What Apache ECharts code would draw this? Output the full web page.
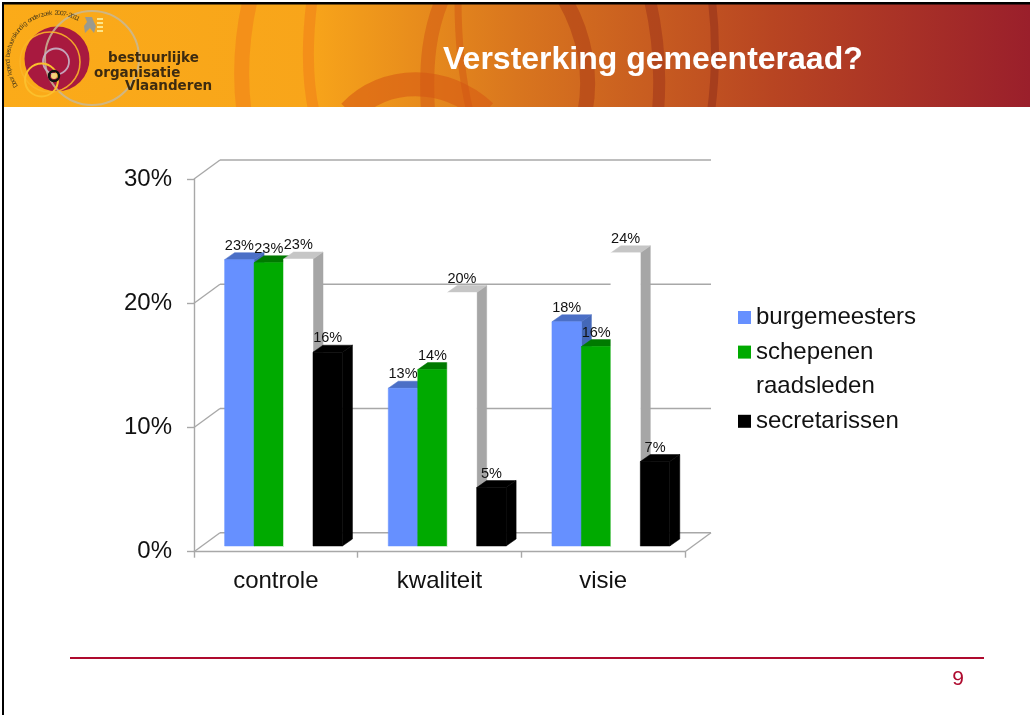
<!DOCTYPE html>
<html>
<head>
<meta charset="utf-8">
<style>
  html, body { margin: 0; padding: 0; background: #fff; }
  #main { width: 1030px; height: 715px; }
</style>
<script src="https://cdn.jsdelivr.net/npm/echarts@6/dist/echarts.min.js"></script>
</head>
<body>
<div id="main"></div>
<script>
// Data (bar heights, labels show them rounded)
const categories = ["controle", "kwaliteit", "visie"];
const burgemeesters = [23.05, 12.7, 18.05];
const schepenen = [22.8, 14.2, 16.05];
const raadsleden = [23.1, 20.4, 23.6];
const secretarissen = [15.6, 4.7, 6.8];
const yTicks = [0, 10, 20, 30];

const FONT = '"Liberation Sans", Arial, sans-serif';
const GREY = "#a8a8a8";
const RED = "#ae0a2e";
const DEPTH_WALL = [26, -19];   // back wall offset
const DEPTH_BAR = [10, -7];     // depth of one bar
const BAR_SHIFT = [7.7, -5.7];  // bars stand a bit inside the floor

// Back wall and side wall lines, drawn from the value axis
const renderWall = (params, api) => {
  const v = api.value(1);
  const p = api.coord([1, v]);
  const size = api.size([1, 0]);
  const x0 = p[0] - size[0] * 1.5;
  const x1 = x0 + size[0] * 3;
  const y = p[1];
  const bx = x0 + DEPTH_WALL[0];
  const by = y + DEPTH_WALL[1];
  const style = { stroke: GREY, lineWidth: 1.4, fill: "none" };
  const children = [
    { type: "line", shape: { x1: x0, y1: y, x2: bx, y2: by }, style },
    { type: "line", shape: { x1: bx, y1: by, x2: x1 + DEPTH_WALL[0], y2: by }, style },
  ];
  if (v === 0) {
    children.push({ type: "line", shape: { x1: x1 + DEPTH_WALL[0], y1: by, x2: x1, y2: y }, style });
  }
  return { type: "group", children };
};

// 3D looking bar: front, top and side faces
const makeBar = (slot, front, top, side) => (params, api) => {
  const v = api.value(1);
  const c = api.coord([api.value(0), v]);
  const base = api.coord([api.value(0), 0]);
  const w = api.size([1, 0])[0] * 0.18;
  const x = c[0] + BAR_SHIFT[0] + (slot - 2) * w;
  const yt = c[1] + BAR_SHIFT[1];
  const yb = base[1] + BAR_SHIFT[1];
  const dx = DEPTH_BAR[0];
  const dy = DEPTH_BAR[1];
  return {
    type: "group",
    children: [
      { type: "polygon", shape: { points: [[x + w, yt], [x + w + dx, yt + dy], [x + w + dx, yb + dy], [x + w, yb]] }, style: { fill: side, stroke: side, lineWidth: 0.5 } },
      { type: "polygon", shape: { points: [[x, yt], [x + dx, yt + dy], [x + w + dx, yt + dy], [x + w, yt]] }, style: { fill: top, stroke: top, lineWidth: 0.5 } },
      { type: "rect", shape: { x, y: yt, width: w, height: yb - yt }, style: { fill: front, stroke: front, lineWidth: 0.5 } },
    ],
  };
};

// Value labels sit on top of all the bars
const makeLabel = (slot) => (params, api) => {
  const v = api.value(1);
  const c = api.coord([api.value(0), v]);
  const w = api.size([1, 0])[0] * 0.18;
  return {
    type: "text",
    style: {
      x: c[0] + BAR_SHIFT[0] + (slot - 2) * w + w / 2,
      y: c[1] + BAR_SHIFT[1] - 14,
      text: Math.round(v) + "%",
      font: "14.5px " + FONT,
      fill: "#111",
      align: "center",
      verticalAlign: "middle",
    },
  };
};

const barSeries = (name, values, slot, front, top, side) => ({
  name,
  type: "custom",
  z: 4 + slot,
  itemStyle: { color: front },
  renderItem: makeBar(slot, front, top, side),
  data: values.map((v, i) => [i, v]),
  silent: true,
});

const labelSeries = (values, slot) => ({
  type: "custom",
  z: 20,
  renderItem: makeLabel(slot),
  data: values.map((v, i) => [i, v]),
  silent: true,
});

// Header pieces
const arc = (p, w, color) => ({
  type: "bezierCurve",
  z: 1,
  shape: { x1: p[0], y1: p[1], cpx1: p[2], cpy1: p[3], cpx2: p[4], cpy2: p[5], x2: p[6], y2: p[7] },
  style: { fill: "none", stroke: color, lineWidth: w },
});
const ring = (cx, cy, r, w, color) => ({
  type: "circle",
  z: 3,
  shape: { cx, cy, r },
  style: { fill: "none", stroke: color, lineWidth: w },
});
const logoText = (text, x, y) => ({
  type: "text",
  z: 4,
  style: { x, y, text, font: "bold 13.5px 'DejaVu Sans', sans-serif", fill: "#3d2b10", verticalAlign: "middle" },
});

// Tiny text that runs around the logo, one rotated letter at a time
const LOGO_CAPTION = "Doorlopend bestuurskundig onderzoek 2007-2011";
const captionLetters = LOGO_CAPTION.split("").map((ch, i) => {
  const a = (212 - (i / (LOGO_CAPTION.length - 1)) * 151) * Math.PI / 180;
  return {
    type: "text",
    z: 4,
    x: 55 + 47 * Math.cos(a),
    y: 60 - 47 * Math.sin(a),
    rotation: a - Math.PI / 2,
    style: { x: 0, y: 0, text: ch, font: "6.5px " + FONT, fill: "#4a3a1a", align: "center", verticalAlign: "middle" },
  };
});

const headerGraphics = [
  {
    type: "rect",
    z: 0,
    shape: { x: 0, y: 0, width: 1030, height: 108 },
    style: {
      fill: new echarts.graphic.LinearGradient(0, 0, 1, 0, [
        { offset: 0, color: "#fbab19" },
        { offset: 0.3, color: "#f8a51a" },
        { offset: 0.5, color: "#d9761e" },
        { offset: 0.75, color: "#b84522" },
        { offset: 1, color: "#9a1f2b" },
      ]),
    },
  },
  arc([250, 0, 241, 40, 240, 80, 244, 112], 15, "rgba(240,125,25,0.55)"),
  arc([312, 0, 307, 40, 307, 80, 314, 112], 11, "rgba(240,125,25,0.55)"),
  arc([350, 112, 385, 75, 445, 75, 485, 112], 24, "rgba(215,90,20,0.6)"),
  arc([442, 0, 430, 30, 425, 60, 428, 112], 14, "rgba(210,85,20,0.5)"),
  arc([458, 0, 458, 35, 460, 70, 470, 112], 7, "rgba(210,85,20,0.5)"),
  arc([565, 0, 585, 35, 592, 75, 585, 112], 15, "rgba(165,50,20,0.45)"),
  arc([650, 0, 658, 35, 661, 75, 658, 112], 12, "rgba(150,45,25,0.45)"),
  arc([712, 0, 716, 35, 716, 75, 711, 112], 8, "rgba(135,40,25,0.45)"),
  // white slide below the banner, black frame on top and left
  { type: "rect", z: 2, shape: { x: 0, y: 107, width: 1030, height: 608 }, style: { fill: "#fff" } },
  { type: "rect", z: 5, shape: { x: 0, y: 0, width: 1030, height: 2 }, style: { fill: "#fff" } },
  { type: "rect", z: 5, shape: { x: 0, y: 0, width: 2, height: 715 }, style: { fill: "#fff" } },
  { type: "rect", z: 5, shape: { x: 2, y: 2, width: 1028, height: 2.5 }, style: { fill: "#000" } },
  { type: "rect", z: 5, shape: { x: 2, y: 2, width: 2, height: 713 }, style: { fill: "#000" } },
  // logo
  { type: "circle", z: 3, shape: { cx: 57, cy: 59, r: 32.5 }, style: { fill: "#a8193f" } },
  ring(92, 58, 47, 2, "rgba(200,185,150,0.85)"),
  ring(50, 62, 30, 1.6, "rgba(250,180,40,0.9)"),
  ring(56, 61.5, 13, 1.8, "rgba(200,180,200,0.9)"),
  ring(41.5, 80, 16.5, 2, "#fbc02d"),
  ring(54, 76, 5, 2.4, "#111"),
  { type: "circle", z: 4, shape: { cx: 54, cy: 76, r: 3 }, style: { fill: "#f3d27a" } },
  // little lion with yellow stripes
  { type: "polygon", z: 3, shape: { points: [[85, 17], [92, 17], [94, 22], [96, 26], [94, 33], [90, 28], [85, 33], [84, 26], [87, 22]] }, style: { fill: "#9a9a8e" } },
  { type: "rect", z: 3, shape: { x: 97, y: 18, width: 6, height: 2 }, style: { fill: "#fde68a" } },
  { type: "rect", z: 3, shape: { x: 97, y: 22, width: 6, height: 2 }, style: { fill: "#fde68a" } },
  { type: "rect", z: 3, shape: { x: 97, y: 26, width: 6, height: 2 }, style: { fill: "#fde68a" } },
  { type: "rect", z: 3, shape: { x: 97, y: 30, width: 6, height: 2 }, style: { fill: "#fde68a" } },
  ...captionLetters,
  logoText("bestuurlijke", 108, 58),
  logoText("organisatie", 94, 73),
  logoText("Vlaanderen", 125, 86),
  {
    type: "text",
    z: 4,
    style: {
      x: 443, y: 60, text: "Versterking gemeenteraad?",
      font: "bold 32px " + FONT, fill: "#fff", verticalAlign: "middle",
    },
  },
  // footer
  { type: "rect", z: 3, shape: { x: 70, y: 657, width: 914, height: 2 }, style: { fill: RED } },
  {
    type: "text",
    z: 4,
    style: { x: 958, y: 679, text: "9", font: "21px " + FONT, fill: RED, align: "center", verticalAlign: "middle" },
  },
];

const chartDom = document.getElementById("main");
const myChart = echarts.init(chartDom);

const option = {
  animation: false,
  backgroundColor: "#fff",
  graphic: { elements: headerGraphics },
  grid: { left: 194, top: 179, width: 491, height: 372.7 },
  legend: {
    orient: "vertical",
    left: 738,
    top: 304,
    padding: 0,
    icon: "rect",
    itemWidth: 13,
    itemHeight: 13,
    itemGap: 7.6,
    selectedMode: false,
    textStyle: { fontFamily: FONT, fontSize: 24, color: "#111", lineHeight: 27 },
    data: ["burgemeesters", "schepenen", "raadsleden", "secretarissen"],
  },
  xAxis: {
    type: "category",
    z: 6,
    data: categories,
    axisLine: { lineStyle: { color: GREY, width: 1.4 } },
    axisTick: { show: true, length: 6, lineStyle: { color: GREY, width: 1.4 } },
    axisLabel: { fontFamily: FONT, fontSize: 24, color: "#111", margin: 18 },
    splitLine: { show: false },
  },
  yAxis: {
    type: "value",
    z: 6,
    min: 0,
    max: 30,
    interval: 10,
    axisLine: { show: true, lineStyle: { color: GREY, width: 1.4 } },
    axisTick: { show: true, length: 7, lineStyle: { color: GREY, width: 1.4 } },
    axisLabel: { fontFamily: FONT, fontSize: 24, color: "#111", margin: 22, padding: [2, 0, 0, 0], formatter: "{value}%" },
    splitLine: { show: false },
  },
  series: [
    {
      type: "custom",
      z: 3,
      renderItem: renderWall,
      data: yTicks.map((t) => [1, t]),
      silent: true,
    },
    barSeries("burgemeesters", burgemeesters, 0, "#6690ff", "#4b6fc6", "#4468b8"),
    barSeries("schepenen", schepenen, 1, "#00aa00", "#007a00", "#007a00"),
    barSeries("raadsleden", raadsleden, 2, "#ffffff", "#c6c6c6", "#a6a6a6"),
    barSeries("secretarissen", secretarissen, 3, "#000000", "#000000", "#000000"),
    labelSeries(burgemeesters, 0),
    labelSeries(schepenen, 1),
    labelSeries(raadsleden, 2),
    labelSeries(secretarissen, 3),
  ],
};

myChart.setOption(option);
</script>
</body>
</html>
